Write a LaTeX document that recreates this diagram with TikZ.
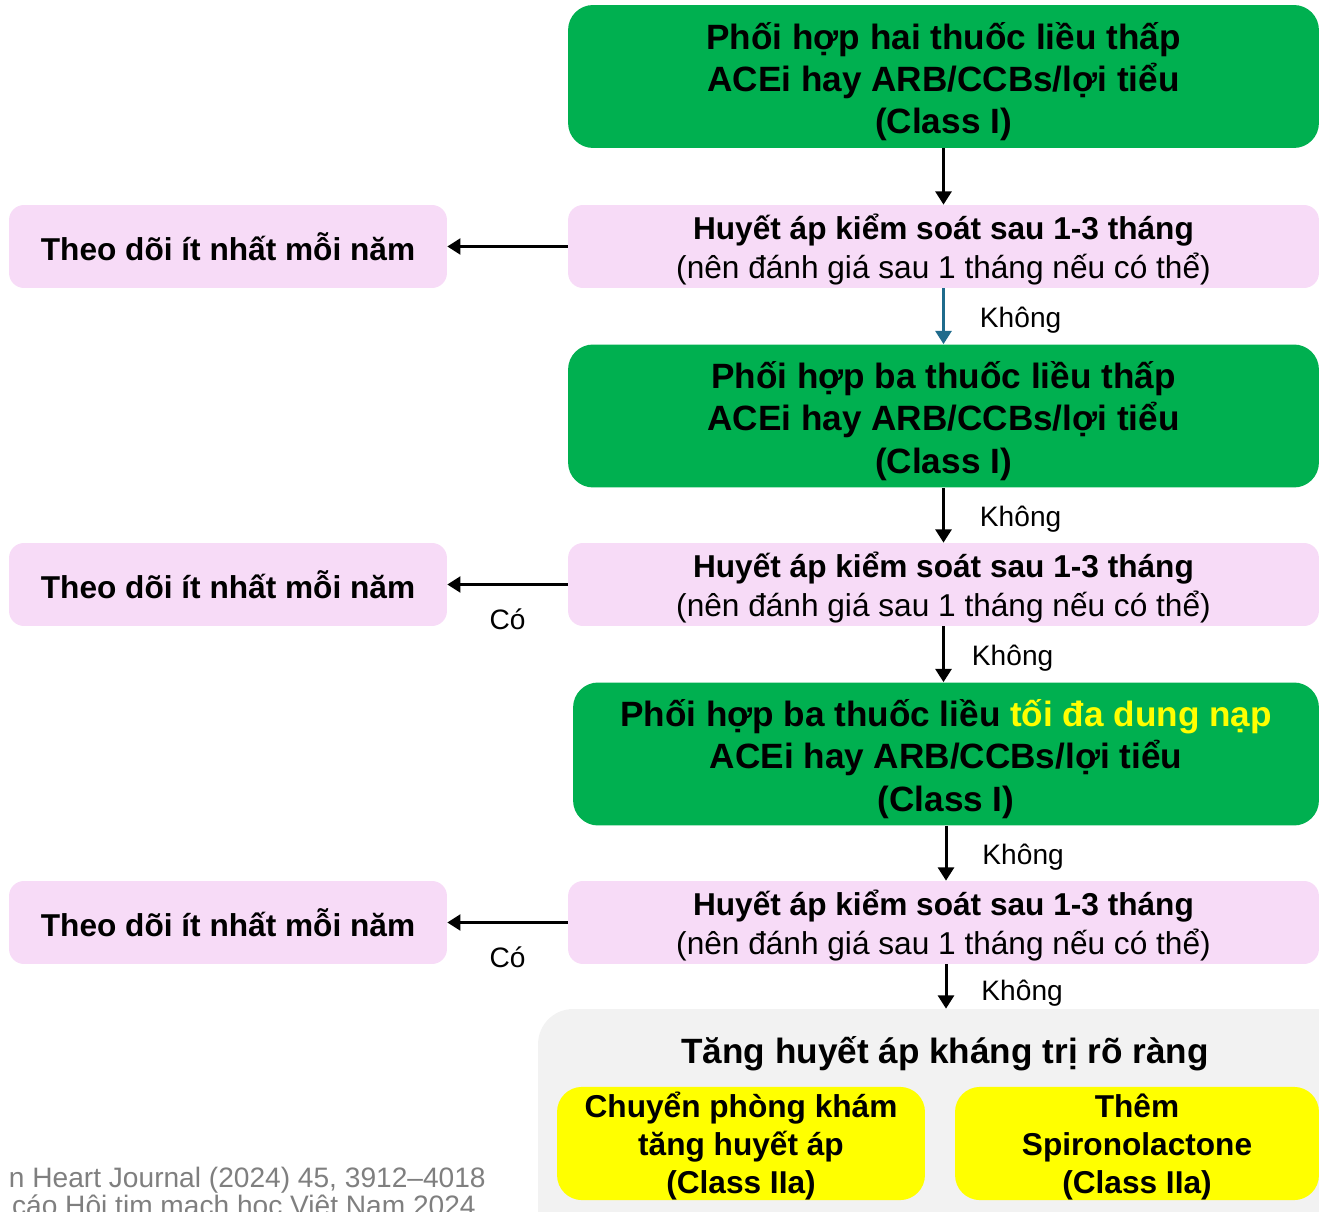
\documentclass[tikz,border=0pt]{standalone}
\usepackage{fontspec}
\setmainfont{Liberation Sans}
\usetikzlibrary{arrows.meta}
\definecolor{boxgreen}{HTML}{00B050}
\definecolor{boxpink}{HTML}{F7DBF7}
\definecolor{boxgray}{HTML}{F2F2F2}
\definecolor{boxyellow}{HTML}{FFFF00}
\definecolor{arrowblue}{HTML}{1F6B8C}
\definecolor{notegray}{HTML}{7F7F7F}
\newcommand{\toppad}[1]{\rule{0pt}{#1}}

\begin{document}
\begin{tikzpicture}[x=0.02cm,y=-0.02cm,
		greenbox/.style={fill=boxgreen,rounded corners=0.5cm,minimum width=15.02cm,minimum height=2.86cm,inner sep=0pt,align=center,font=\fontsize{20}{24}\selectfont\bfseries},
		pinkbox/.style={fill=boxpink,rounded corners=0.3cm,minimum width=15.02cm,minimum height=1.66cm,inner sep=0pt,align=center,font=\fontsize{18}{22}\selectfont},
		leftbox/.style={fill=boxpink,rounded corners=0.3cm,minimum width=8.76cm,minimum height=1.66cm,inner sep=0pt,font=\fontsize{18}{22}\selectfont\bfseries},
		yellowbox/.style={fill=boxyellow,rounded corners=0.5cm,minimum height=2.26cm,inner sep=0pt,align=center,font=\fontsize{18}{21.5}\selectfont\bfseries},
		arr/.style={-{Triangle[width=9pt,length=7.5pt]},line width=1.7pt},
		lab/.style={inner sep=0pt,font=\fontsize{16}{19}\selectfont},
		nolab/.style={lab,midway,anchor=west,yshift=-0.08cm},
		yeslab/.style={lab,midway,below=0.46cm}]
				\useasboundingbox (0,0) rectangle (1319,1212);
				% main column
				\node[greenbox] (g1) at (943.5,76.5) {\toppad{21.2pt}Phối hợp hai thuốc liều thấp\\ACEi hay ARB/CCBs/lợi tiểu\\(Class I)};
				\node[pinkbox] (p1) at (943.5,246.5) {\toppad{18.2pt}{\bfseries Huyết áp kiểm soát sau 1-3 tháng}\\(nên đánh giá sau 1 tháng nếu có thể)};
				\node[greenbox] (g2) at (943.5,416) {\toppad{21.2pt}Phối hợp ba thuốc liều thấp\\ACEi hay ARB/CCBs/lợi tiểu\\(Class I)};
				\node[pinkbox] (p2) at (943.5,584.5) {\toppad{18.2pt}{\bfseries Huyết áp kiểm soát sau 1-3 tháng}\\(nên đánh giá sau 1 tháng nếu có thể)};
				\node[greenbox,minimum width=14.92cm] (g3) at (946,754) {\toppad{21.2pt}Phối hợp ba thuốc liều \textcolor{boxyellow}{tối đa dung nạp}\\ACEi hay ARB/CCBs/lợi tiểu\\(Class I)};
				\node[pinkbox] (p3) at (943.5,922.5) {\toppad{18.2pt}{\bfseries Huyết áp kiểm soát sau 1-3 tháng}\\(nên đánh giá sau 1 tháng nếu có thể)};
				% follow-up boxes
				\node[leftbox] (l1) at (228,246.5) {Theo dõi ít nhất mỗi năm};
				\node[leftbox] (l2) at (228,584.5) {Theo dõi ít nhất mỗi năm};
				\node[leftbox] (l3) at (228,922.5) {Theo dõi ít nhất mỗi năm};
				% resistant hypertension
				\node[fill=boxgray,rounded corners=0.7cm,minimum width=16.44cm,minimum height=5.02cm,inner sep=0pt] (res) at (949,1134.5) {};
				\node[font=\fontsize{20}{24}\selectfont\bfseries] (restitle) at (945,1054) {Tăng huyết áp kháng trị rõ ràng};
				\node[yellowbox,minimum width=7.36cm] (y1) at (741,1143.5) {\toppad{17.7pt}Chuyển phòng khám\\tăng huyết áp\\(Class IIa)};
				\node[yellowbox,minimum width=7.28cm] (y2) at (1137,1143.5) {\toppad{17.7pt}Thêm\\Spironolactone\\(Class IIa)};
				% arrows
				\draw[arr] (g1) -- (p1);
				\draw[arr,draw=arrowblue] (p1) -- (g2) node[nolab,xshift=0.7cm] {Không};
				\draw[arr] (g2) -- (p2) node[nolab,xshift=0.7cm] {Không};
				\draw[arr] (p2) -- (g3.north -| p2.south) node[nolab,xshift=0.54cm] {Không};
				\draw[arr] (g3.south) -- (g3.south |- p3.north) node[nolab,xshift=0.7cm] {Không};
				\draw[arr] (p3.south -| 946,0) -- (res.north -| 946,0) node[nolab,xshift=0.68cm,yshift=-0.06cm] {Không};
				\draw[arr] (p1) -- (l1);
				\draw[arr] (p2) -- (l2) node[yeslab] {Có};
				\draw[arr] (p3) -- (l3) node[yeslab] {Có};
				% source note
				\node[lab,anchor=base east,text=notegray] (note1) at (486,1187) {n Heart Journal (2024) 45, 3912–4018};
				\node[lab,anchor=base east,text=notegray] (note2) at (476,1215) {cáo Hội tim mạch học Việt Nam 2024};
			\end{tikzpicture}
\end{document}
